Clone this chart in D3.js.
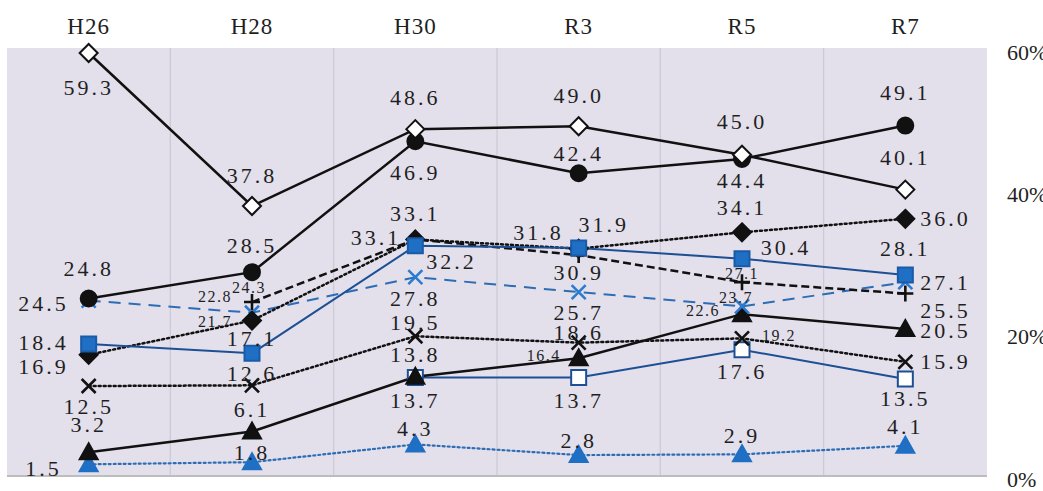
<!DOCTYPE html>
<html>
<head>
<meta charset="utf-8">
<script src="https://cdn.jsdelivr.net/npm/d3@7"></script>
<style>
body { margin: 0; background: #fff; }
text { font-family: "Liberation Serif", "DejaVu Serif", serif; fill: #1f1f1f; }
</style>
</head>
<body>
<div id="chart"></div>
<script>
// survey years and y ticks (%)
const categories = ['H26', 'H28', 'H30', 'R3', 'R5', 'R7'];
const yTicks = [0, 20, 40, 60];

const whiteDiamond = [59.3, 37.8, 48.6, 49.0, 45.0, 40.1];
const blackCircle = [24.8, 28.5, 46.9, 42.4, 44.4, 49.1];
const blackDiamond = [16.9, 21.7, 33.1, 31.8, 34.1, 36.0];
const blackPlus = [null, 24.3, 33.1, 30.9, 27.1, 25.5];
const blueCross = [24.5, 22.8, 27.8, 25.7, 23.7, 27.1];
const blueSquare = [18.4, 17.1, 32.2, 31.9, 30.4, 28.1];
const blackTriangle = [3.2, 6.1, 13.8, 16.4, 22.6, 20.5];
const whiteSquare = [null, null, 13.7, 13.7, 17.6, 13.5];
const blackCross = [12.5, 12.6, 19.5, 18.6, 19.2, 15.9];
const blueTriangle = [1.5, 1.8, 4.3, 2.8, 2.9, 4.1];

// label placement per point: [anchor, dx, dy, small]
const A = (dy, dx = 0, s = false) => ['middle', dx, dy, s];
const L = (dx, dy, s = false) => ['end', dx, dy, s];
const R = (dx, dy, s = false) => ['start', dx, dy, s];

const NAVY = '#1d4f94', BLUE = '#1f6fc4', BLUE_D = '#2c6db5';

const series = [
  { values: whiteSquare, color: NAVY, width: 2, dash: null, marker: 'square', fill: '#fff', stroke: NAVY,
    labels: [null, null, A(23), A(23), A(22), A(20)] },
  { values: blueTriangle, color: BLUE_D, width: 2.2, dash: '2,3', marker: 'triangle', fill: BLUE, stroke: BLUE,
    labels: [L(-27, 4), A(-10), A(-16), A(-15), A(-19), A(-19)] },
  { values: blackCross, color: '#111', width: 2.5, dash: '2,3', marker: 'x', fill: 'none', stroke: '#111',
    labels: [A(20), A(-12), A(-14), A(-10), R(20, -3, true), R(15, 0)] },
  { values: blackTriangle, color: '#111', width: 2.5, dash: null, marker: 'triangle', fill: '#111', stroke: '#111',
    labels: [A(-28), A(-22), A(-22), L(-18, -3, true), L(-22, -4, true), R(15, 1)] },
  { values: blueCross, color: BLUE_D, width: 2, dash: '12,8', marker: 'x', fill: 'none', stroke: '#2b7bd0',
    labels: [L(-20, 3), L(-20, -16, true), A(21), A(20), A(-9, -6, true), R(15, 0)] },
  { values: blackDiamond, color: '#111', width: 2.5, dash: '2,3', marker: 'diamond', fill: '#111', stroke: '#111',
    labels: [L(-20, 12), L(-20, 1, true), L(-14, -2), L(-15, -16), A(-25), R(15, 0)] },
  { values: blackPlus, color: '#111', width: 2.5, dash: '8,4', marker: 'plus', fill: 'none', stroke: '#111',
    labels: [null, A(-15, -3, true), A(-26), A(17), A(-9, 0, true), R(15, 17)] },
  { values: blueSquare, color: NAVY, width: 2, dash: null, marker: 'square', fill: BLUE, stroke: '#1a5aa6',
    labels: [L(-20, -2), A(-15), R(11, 16), A(-23, 25), A(-11, 44), A(-27)] },
  { values: blackCircle, color: '#111', width: 2.5, dash: null, marker: 'circle', fill: '#111', stroke: '#111',
    labels: [A(-30), A(-27), A(31), A(-20), A(21), A(-33)] },
  { values: whiteDiamond, color: '#111', width: 2.5, dash: null, marker: 'diamond', fill: '#fff', stroke: '#111',
    labels: [A(35), A(-30), A(-32), A(-31), A(-33), A(-32)] }
];

const width = 1043, height = 491;
const plot = { left: 7, right: 987, top: 48, bottom: 475 };

const svg = d3.select('#chart').append('svg')
  .attr('width', width)
  .attr('height', height);

const xScale = d3.scaleBand().domain(categories).range([plot.left, plot.right]);
const yScale = d3.scaleLinear().domain([0, 60]).range([plot.bottom, plot.top]);
const xc = c => xScale(c) + xScale.bandwidth() / 2;

// plot background and band dividers
svg.append('rect')
  .attr('x', plot.left).attr('y', plot.top)
  .attr('width', plot.right - plot.left).attr('height', plot.bottom - plot.top)
  .attr('fill', '#e3e0ec');

svg.append('g').selectAll('line').data(categories.slice(1)).enter().append('line')
  .attr('x1', d => xScale(d)).attr('x2', d => xScale(d))
  .attr('y1', plot.top).attr('y2', plot.bottom)
  .attr('stroke', '#cbc9d2').attr('stroke-width', 1.2);

svg.append('line')
  .attr('x1', plot.left).attr('x2', plot.right)
  .attr('y1', plot.bottom + 1).attr('y2', plot.bottom + 1)
  .attr('stroke', '#bdbdbd').attr('stroke-width', 2);

// category axis on top
const xAxis = svg.append('g')
  .attr('transform', 'translate(0,' + 40 + ')')
  .call(d3.axisTop(xScale).tickSize(0).tickPadding(6));
xAxis.select('.domain').remove();
xAxis.selectAll('text').style('font-size', '23px').attr('fill', '#1f1f1f')
  .style('font-family', '"Liberation Serif", serif').attr('letter-spacing', 1);

// value axis on the right (cut at the window edge like the source)
const yAxis = svg.append('g')
  .attr('transform', 'translate(1007,4)')
  .call(d3.axisRight(yScale).tickValues(yTicks).tickSize(0).tickPadding(0).tickFormat(d => d + '%'));
yAxis.select('.domain').remove();
yAxis.selectAll('text').style('font-size', '22px').attr('fill', '#1f1f1f')
  .style('font-family', '"Liberation Serif", serif').attr('letter-spacing', 0);

// lines
const line = d3.line()
  .defined(d => d.v != null)
  .x(d => xc(d.c))
  .y(d => yScale(d.v));

const pts = s => s.values.map((v, i) => ({ v: v, c: categories[i], lab: s.labels[i] }));

svg.append('g').selectAll('path').data(series).enter().append('path')
  .attr('d', s => line(pts(s)))
  .attr('fill', 'none')
  .attr('stroke', s => s.color)
  .attr('stroke-width', s => s.width)
  .attr('stroke-dasharray', s => s.dash)
  .attr('stroke-linecap', s => s.dash === '2,3' ? 'round' : 'butt');

// markers
const shapes = {
  diamond: 'M0,-9L9,0L0,9L-9,0Z',
  square: 'M-7.5,-7.5H7.5V7.5H-7.5Z',
  triangle: 'M0,-9L9,7L-9,7Z',
  circle: d3.symbol(d3.symbolCircle, 200)(),
  plus: 'M-8,0H8M0,-8V8',
  x: 'M-7,-7L7,7M7,-7L-7,7'
};

series.forEach(s => {
  const open = s.marker === 'plus' || s.marker === 'x';
  const g = svg.append('g');
  g.selectAll('path').data(pts(s).filter(d => d.v != null)).enter().append('path')
    .attr('d', shapes[s.marker])
    .attr('transform', d => 'translate(' + xc(d.c) + ',' + yScale(d.v) + ')')
    .attr('fill', s.fill)
    .attr('stroke', s.stroke)
    .attr('stroke-width', open ? 2.6 : 2)
    .attr('stroke-linejoin', 'miter');
});

// data labels
series.forEach(s => {
  svg.append('g').selectAll('text').data(pts(s).filter(d => d.v != null && d.lab)).enter().append('text')
    .attr('x', d => xc(d.c) + d.lab[1])
    .attr('y', d => yScale(d.v) + d.lab[2])
    .attr('text-anchor', d => d.lab[0])
    .attr('dominant-baseline', 'central')
    .attr('letter-spacing', d => d.lab[3] ? 1.5 : 3)
    .style('font-size', d => d.lab[3] ? '16px' : '22px')
    .text(d => d.v.toFixed(1));
});
</script>
</body>
</html>
